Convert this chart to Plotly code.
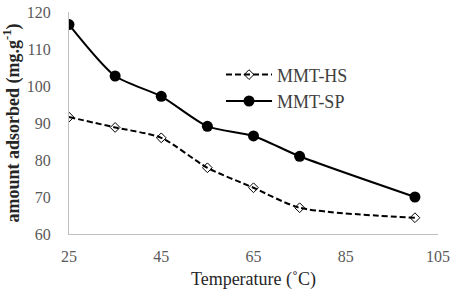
import plotly.graph_objects as go

temperature = [25, 35, 45, 55, 65, 75, 100]
mmt_hs = [91.6, 88.8, 86.0, 77.9, 72.5, 67.1, 64.4]
mmt_sp = [116.6, 102.7, 97.2, 89.1, 86.5, 81.0, 70.0]
x_ticks = [25, 45, 65, 85, 105]
y_ticks = [60, 70, 80, 90, 100, 110, 120]

fig = go.Figure()
fig.add_trace(go.Scatter(
    x=temperature, y=mmt_hs, name="MMT-HS", mode="lines+markers",
    line=dict(color="black", width=2, dash="6px,3px", shape="spline", smoothing=0.7),
    marker=dict(symbol="diamond-open", size=7.5, color="black", line=dict(width=1)),
))
fig.add_trace(go.Scatter(
    x=temperature, y=mmt_sp, name="MMT-SP", mode="lines+markers",
    line=dict(color="black", width=2, shape="spline", smoothing=0.7),
    marker=dict(symbol="circle", size=11, color="black"),
))

font_family = "Liberation Serif"
fig.update_layout(
    width=454, height=296,
    margin=dict(l=69, r=16, t=12, b=62, autoexpand=False),
    paper_bgcolor="white", plot_bgcolor="white",
    font=dict(family=font_family, size=16, color="#595959"),
    showlegend=True,
    legend=dict(x=0.412, y=0.80, xanchor="left", yanchor="top",
                bgcolor="rgba(0,0,0,0)", font=dict(family=font_family, size=18, color="#404040"),
                itemwidth=46, tracegroupgap=0),
    xaxis=dict(range=[25, 105], tickvals=x_ticks, showgrid=False, zeroline=False,
               showline=True, linecolor="#bfbfbf", linewidth=1,
               ticks="outside", ticklen=8, tickcolor="rgba(0,0,0,0)",
               tickfont=dict(family=font_family, size=16, color="#595959"),
               title=dict(text="Temperature (˚C)", font=dict(family=font_family, size=18, color="#262626"), standoff=8)),
    yaxis=dict(range=[60, 120], tickvals=y_ticks, showgrid=False, zeroline=False,
               showline=True, linecolor="#bfbfbf", linewidth=1,
               ticks="outside", ticklen=14, tickcolor="rgba(0,0,0,0)",
               tickfont=dict(family=font_family, size=16, color="#595959"),
               title=dict(text="<b>amount adsorbed (mg.g<sup>-1</sup>)</b>",
                          font=dict(family=font_family, size=18, color="#262626"), standoff=2)),
)
fig.write_html("out.html", config={"displayModeBar": False},
               post_script="document.body.style.margin='0';document.body.style.overflow='hidden';")
